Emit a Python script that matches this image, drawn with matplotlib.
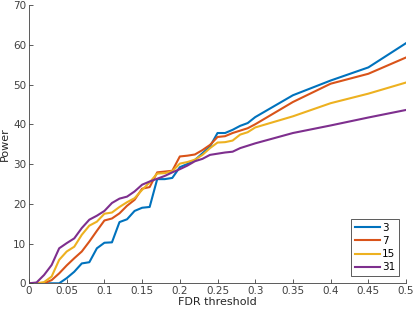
import matplotlib
matplotlib.use("Agg")
import matplotlib.pyplot as plt
import numpy as np

# FDR thresholds
fdr = [0.00, 0.01, 0.02, 0.03, 0.04, 0.05, 0.06, 0.07, 0.08, 0.09,
       0.10, 0.11, 0.12, 0.13, 0.14, 0.15, 0.16, 0.17, 0.18, 0.19,
       0.20, 0.21, 0.22, 0.23, 0.24, 0.25, 0.26, 0.27, 0.28, 0.29,
       0.30, 0.35, 0.40, 0.45, 0.50]

power_3 = [0, 0, 0, 0, 0, 1.3, 2.9, 5.0, 5.3, 8.8,
           10.2, 10.3, 15.4, 16.1, 18.2, 19.0, 19.2, 26.2, 26.2, 26.5,
           29.2, 30.0, 31.0, 32.7, 34.4, 37.8, 37.8, 38.6, 39.6, 40.3,
           41.8, 47.3, 51.0, 54.3, 60.4]
power_7 = [0, 0, 0, 0.8, 2.5, 4.5, 6.3, 8.0, 10.5, 13.2,
           15.8, 16.3, 17.6, 19.5, 21.0, 23.8, 24.2, 27.9, 28.1, 28.3,
           31.9, 32.1, 32.4, 33.5, 34.8, 36.8, 37.0, 37.8, 38.4, 39.0,
           40.0, 45.6, 50.2, 52.7, 56.8]
power_15 = [0, 0, 0.3, 1.7, 5.9, 8.0, 9.2, 12.2, 14.5, 15.5,
            17.5, 17.8, 19.2, 20.4, 21.4, 23.5, 25.4, 27.6, 27.7, 28.2,
            30.1, 30.5, 31.1, 32.3, 34.0, 35.4, 35.5, 35.9, 37.4, 38.0,
            39.2, 42.0, 45.3, 47.7, 50.5]
power_31 = [0, 0.2, 2.1, 4.6, 8.8, 10.1, 11.3, 13.9, 16.0, 17.0,
            18.2, 20.2, 21.3, 21.8, 23.1, 24.8, 25.6, 26.3, 27.0, 27.9,
            28.7, 29.6, 30.7, 31.3, 32.3, 32.6, 32.9, 33.1, 34.0, 34.6,
            35.2, 37.8, 39.7, 41.7, 43.6]

labels = ['3', '7', '15', '31']
colors = ['#0072BD', '#D95319', '#EDB120', '#7E2F8E']

fig = plt.figure(figsize=(4.15, 3.12), dpi=100)
ax = fig.add_axes([0.0699, 0.092, 0.9085, 0.892])

for y, lab, c in zip([power_3, power_7, power_15, power_31], labels, colors):
    ax.plot(fdr, y, color=c, linewidth=1.5, label=lab)

ax.set_xlim(0, 0.5)
ax.set_ylim(0, 70)
ax.set_xticks(np.arange(0, 0.51, 0.05))
ax.set_xticklabels(['0', '0.05', '0.1', '0.15', '0.2', '0.25', '0.3',
                    '0.35', '0.4', '0.45', '0.5'])
ax.set_yticks(np.arange(0, 71, 10))

for s in ['top', 'right']:
    ax.spines[s].set_visible(False)
for s in ['left', 'bottom']:
    ax.spines[s].set_color('#404040')
    ax.spines[s].set_linewidth(0.6)
ax.tick_params(direction='in', length=3, width=0.6, colors='#404040',
               labelsize=7.5, pad=2)

ax.set_xlabel('FDR threshold', fontsize=8, color='#262626', labelpad=1)
ax.set_ylabel('Power', fontsize=8, color='#262626', labelpad=2)

leg = ax.legend(loc='lower right', fontsize=7.5, fancybox=False,
                edgecolor='#404040', framealpha=1, handlelength=2.4,
                handletextpad=0.2, borderpad=0.35, labelspacing=0.3,
                borderaxespad=0.7)
leg.get_frame().set_linewidth(0.6)

plt.savefig('out.png', dpi=100)
